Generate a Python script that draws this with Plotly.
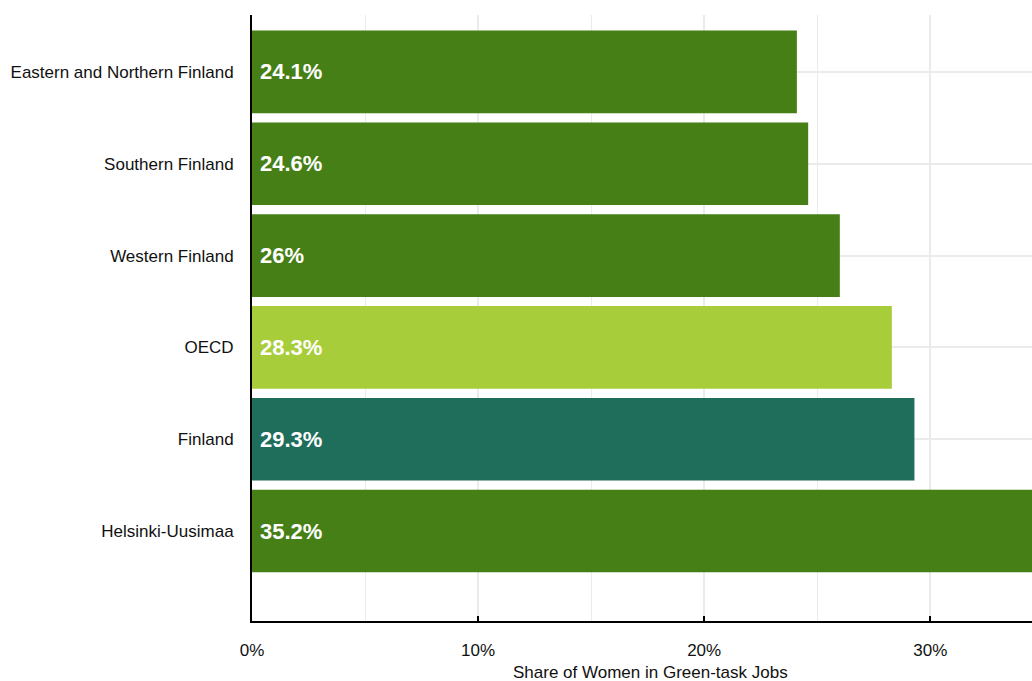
import plotly.graph_objects as go

categories = ["Helsinki-Uusimaa", "Finland", "OECD", "Western Finland", "Southern Finland", "Eastern and Northern Finland"]
values = [35.2, 29.3, 28.3, 26.0, 24.6, 24.1]
labels = ["35.2%", "29.3%", "28.3%", "26%", "24.6%", "24.1%"]
colors = ["#457f16", "#1f6d5b", "#a8cd3a", "#457f16", "#457f16", "#457f16"]
tick_vals = [0, 10, 20, 30]
tick_text = ["0%", "10%", "20%", "30%"]
x_title = "Share of Women in Green-task Jobs"

FONT = "Liberation Sans"

fig = go.Figure(go.Bar(
    y=categories, x=values, orientation="h",
    marker=dict(color=colors, line=dict(width=0)),
    cliponaxis=True,
    width=0.9,
    hoverinfo="skip",
))

for cat, lab in zip(categories, labels):
    fig.add_annotation(
        x=0, y=cat, text=lab, showarrow=False,
        xanchor="left", xshift=6, yanchor="middle",
        font=dict(family=FONT, size=22, color="white", weight="bold"),
    )

fig.add_annotation(
    xref="paper", yref="paper", x=0.5, y=0, xshift=8, yshift=-51,
    xanchor="center", yanchor="middle", showarrow=False,
    text=x_title, font=dict(family=FONT, size=17, color="#111"),
)

fig.update_layout(
    width=1032, height=681,
    margin=dict(l=252, r=0, t=15, b=60),
    plot_bgcolor="white", paper_bgcolor="white",
    showlegend=False,
    font=dict(family=FONT, size=17, color="#111"),
)
fig.update_xaxes(
    range=[0, 34.5], tickvals=tick_vals, ticktext=tick_text,
    showgrid=True, gridcolor="#ebebeb", gridwidth=2,
    minor=dict(dtick=5, tick0=5, showgrid=True, gridcolor="#ebebeb", gridwidth=1),
    showline=True, linecolor="black", linewidth=2,
    ticks="inside", ticklen=5, tickcolor="black", tickwidth=2,
    ticklabelstandoff=13,
    zeroline=False, automargin=False,
    tickfont=dict(family=FONT, size=17, color="#111"),
)
fig.update_yaxes(
    range=[-0.98, 5.62],
    showgrid=True, gridcolor="#ebebeb", gridwidth=2,
    showline=True, linecolor="black", linewidth=2,
    ticks="", ticklabelstandoff=13, automargin=False,
    tickfont=dict(family=FONT, size=17, color="#111"),
)

fig.write_html(
    "out.html",
    config={"displayModeBar": False, "staticPlot": True},
    post_script="document.body.style.margin='0';document.body.style.overflow='hidden';",
)
